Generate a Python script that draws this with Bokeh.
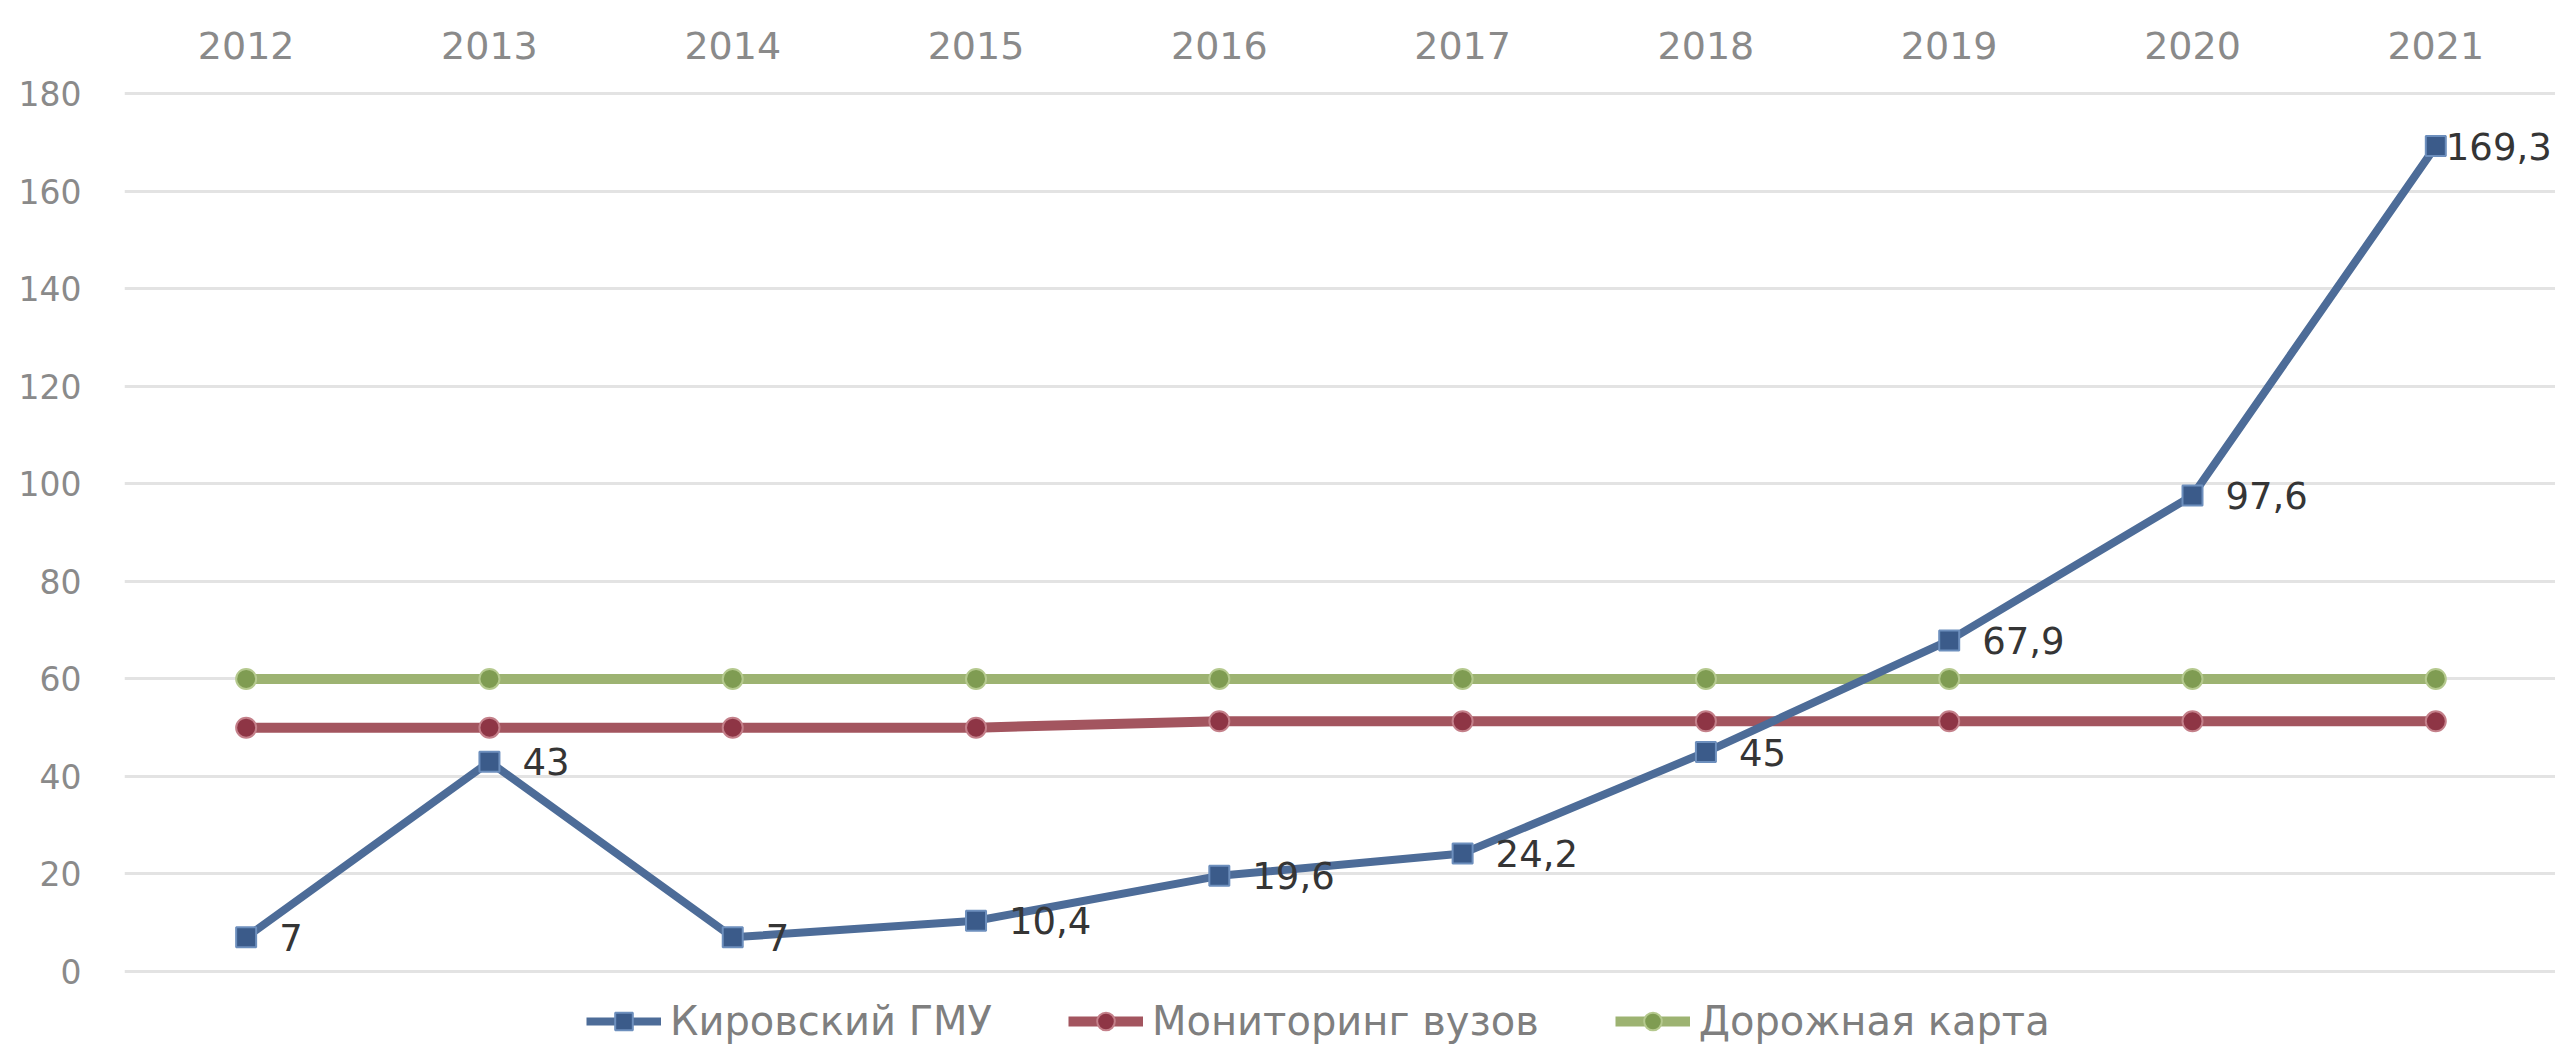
from bokeh.plotting import figure
from bokeh.models import (ColumnDataSource, Range1d, FixedTicker, Legend, LegendItem)
from bokeh.core.properties import value
from bokeh.embed import file_html
from bokeh.resources import INLINE

# ---- data ----
years = ["2012", "2013", "2014", "2015", "2016", "2017", "2018", "2019", "2020", "2021"]
kirov = [7, 43, 7, 10.4, 19.6, 24.2, 45, 67.9, 97.6, 169.3]
monitoring = [50, 50, 50, 50, 51.3, 51.3, 51.3, 51.3, 51.3, 51.3]
roadmap = [60, 60, 60, 60, 60, 60, 60, 60, 60, 60]
series_names = ["Кировский ГМУ", "Мониторинг вузов", "Дорожная карта"]
y_ticks = [0, 20, 40, 60, 80, 100, 120, 140, 160, 180]

def fmt(v):
    return str(int(v)) if float(v).is_integer() else str(v).replace(".", ",")

idx = list(range(len(years)))
src = ColumnDataSource(dict(
    x=idx, kirov=kirov, monitoring=monitoring, roadmap=roadmap,
    lab=[fmt(v) for v in kirov],
))
# label offsets (style): last label pulled left as in original
src.data["xoff"] = [33] * (len(years) - 1) + [10]

FONT = "DejaVu Sans"
W, H = 2555, 1045

# frame extends below 0 so the legend sits inside the plot area
p = figure(width=W, height=H, output_backend="svg", toolbar_location=None,
           x_range=Range1d(-0.5, 9.492), y_range=Range1d(-15.2, 180.5),
           x_axis_location="above",
           min_border_left=124, min_border_right=0, min_border_top=91,
           min_border_bottom=0)
p.outline_line_color = None
p.background_fill_color = "white"
p.border_fill_color = "white"

# axes
xa = p.xaxis[0]
xa.ticker = FixedTicker(ticks=idx)
xa.major_label_overrides = {i: y for i, y in zip(idx, years)}
xa.axis_line_color = None
xa.major_tick_line_color = None
xa.minor_tick_line_color = None
xa.major_label_text_font = FONT
xa.major_label_text_font_size = "38px"
xa.major_label_text_color = "#8a8a8a"
xa.major_label_standoff = 27

ya = p.yaxis[0]
ya.ticker = FixedTicker(ticks=y_ticks)
ya.axis_line_color = None
ya.major_tick_line_color = None
ya.minor_tick_line_color = None
ya.major_label_text_font = FONT
ya.major_label_text_font_size = "33px"
ya.major_label_text_color = "#8a8a8a"
ya.major_label_standoff = 37

p.xgrid.grid_line_color = None
p.ygrid.grid_line_color = "#e3e3e3"
p.ygrid.grid_line_width = 3
p.ygrid.ticker = FixedTicker(ticks=y_ticks)

# series
g_l = p.line("x", "roadmap", source=src, line_color="#9db372", line_width=10)
g_m = p.scatter("x", "roadmap", source=src, marker="circle", size=20,
                fill_color="#7f9c52", line_color="#b5c98e", line_width=2)
r_l = p.line("x", "monitoring", source=src, line_color="#a3555f", line_width=10)
r_m = p.scatter("x", "monitoring", source=src, marker="circle", size=20,
                fill_color="#8e3545", line_color="#c4808a", line_width=2)
b_l = p.line("x", "kirov", source=src, line_color="#4d6c98", line_width=8)

p.text("x", "kirov", text="lab", source=src, x_offset="xoff",
       text_font=value(FONT), text_font_size="37px", text_color="#353535",
       text_align="left", text_baseline="middle")

b_m = p.scatter("x", "kirov", source=src, marker="square", size=20,
                fill_color="#3b5b8a", line_color="#6d8fbd", line_width=2)

legend = Legend(items=[
    LegendItem(label=series_names[0], renderers=[b_l, b_m]),
    LegendItem(label=series_names[1], renderers=[r_l, r_m]),
    LegendItem(label=series_names[2], renderers=[g_l, g_m]),
], orientation="horizontal", location=(462, 1))
legend.glyph_width = 75
legend.glyph_height = 44
legend.label_height = 44
legend.label_standoff = 9
legend.spacing = 76
legend.padding = 0
legend.margin = 0
legend.border_line_alpha = 0
legend.background_fill_alpha = 0
legend.label_text_font = FONT
legend.label_text_font_size = "40px"
legend.label_text_color = "#7f7f7f"
p.add_layout(legend, "center")

open("out.html", "w").write(file_html(p, INLINE))
